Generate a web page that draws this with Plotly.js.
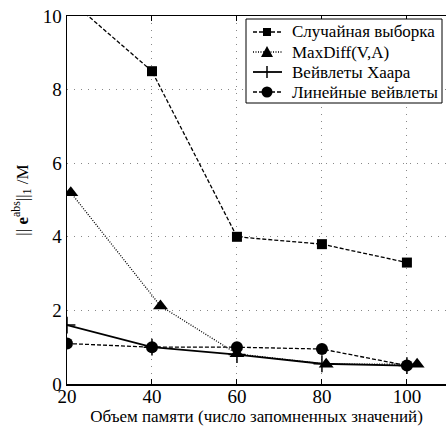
<!DOCTYPE html>
<html><head><meta charset="utf-8">
<script src="https://cdn.plot.ly/plotly-3.0.1.min.js"></script>
<style>html,body{margin:0;padding:0;background:#fff}</style>
</head><body>
<div id="chart" style="width:446px;height:428px"></div>
<script>
const seriesNames = ["Случайная выборка", "MaxDiff(V,A)", "Вейвлеты Хаара", "Линейные вейвлеты"];
const randomX = [20, 40, 60, 80, 100];
const randomY = [10.5, 8.5, 4.0, 3.8, 3.3];
const maxdiffX = [20.9, 42, 60, 81, 102.4];
const maxdiffY = [5.2, 2.12, 0.82, 0.54, 0.54];
const haarX = [20, 40, 60, 80, 100];
const haarY = [1.6, 1.0, 0.8, 0.55, 0.5];
const linearX = [20, 40, 60, 80, 100];
const linearY = [1.1, 1.0, 1.0, 0.95, 0.5];
const xTicks = [20, 40, 60, 80, 100];
const yTicks = [0, 2, 4, 6, 8, 10];

const FONT = "Liberation Serif";
const W = 446, H = 428, ML = 67, MR = 0, MT = 16, MB = 44;
const PW = W - ML - MR, PH = H - MT - MB;
const px = v => (v - ML) / PW;          // pixel x -> paper
const py = v => (H - MB - v) / PH;      // pixel y -> paper

const lineStyles = [
  {width: 1.3, dash: "4px,2px"},
  {width: 1.3, dash: "1px,1.5px"},
  {width: 1.8, dash: "solid"},
  {width: 1.3, dash: "4px,2px"}
];
const traces = [
  {x: randomX, y: randomY, name: seriesNames[0], mode: "lines+markers",
   line: Object.assign({color: "#000"}, lineStyles[0]),
   marker: {symbol: "square", size: 10, color: "#000"}},
  {x: maxdiffX, y: maxdiffY, name: seriesNames[1], mode: "lines+markers",
   line: Object.assign({color: "#000"}, lineStyles[1]),
   marker: {symbol: "triangle-up", size: 13, color: "#000"}},
  {x: haarX, y: haarY, name: seriesNames[2], mode: "lines+markers",
   line: Object.assign({color: "#000"}, lineStyles[2]),
   marker: {symbol: "cross-thin-open", size: 12, color: "#000", line: {width: 1.5, color: "#000"}}},
  {x: linearX, y: linearY, name: seriesNames[3], mode: "lines+markers",
   line: Object.assign({color: "#000"}, lineStyles[3]),
   marker: {symbol: "circle", size: 12, color: "#000"}}
];

// custom legend (box, samples, labels)
const shapes = [];
const annotations = [];
const LX0 = 246, LX1 = 442, LY0 = 19, LY1 = 103;
shapes.push({type: "rect", xref: "paper", yref: "paper", x0: px(LX0), x1: px(LX1), y0: py(LY1), y1: py(LY0),
  line: {color: "#000", width: 1}, fillcolor: "#fff", layer: "above"});
const rowY = [32, 52, 72, 92];
const sx0 = 253, sx1 = 282, sc = 267;
rowY.forEach((yy, i) => {
  shapes.push({type: "line", xref: "paper", yref: "paper", x0: px(sx0), x1: px(sx1), y0: py(yy), y1: py(yy),
    line: {color: "#000", width: lineStyles[i].width, dash: lineStyles[i].dash}, layer: "above"});
  annotations.push({xref: "paper", yref: "paper", x: px(290), y: py(yy), xanchor: "left", yanchor: "middle",
    text: seriesNames[i], showarrow: false, font: {family: FONT, size: 17, color: "#000"}});
});
// legend symbols
const s = 4;
shapes.push({type: "rect", xref: "paper", yref: "paper", x0: px(sc - s), x1: px(sc + s), y0: py(rowY[0] + s), y1: py(rowY[0] - s),
  fillcolor: "#000", line: {width: 0}, layer: "above"});
shapes.push({type: "path", xref: "paper", yref: "paper",
  path: `M ${px(sc - 6)} ${py(rowY[1] + 5)} L ${px(sc + 6)} ${py(rowY[1] + 5)} L ${px(sc)} ${py(rowY[1] - 6)} Z`,
  fillcolor: "#000", line: {width: 0}, layer: "above"});
shapes.push({type: "line", xref: "paper", yref: "paper", x0: px(sc), x1: px(sc), y0: py(rowY[2] - 6), y1: py(rowY[2] + 6),
  line: {color: "#000", width: 1.5}, layer: "above"});
shapes.push({type: "circle", xref: "paper", yref: "paper", x0: px(sc - 5.5), x1: px(sc + 5.5), y0: py(rowY[3] + 5.5), y1: py(rowY[3] - 5.5),
  fillcolor: "#000", line: {width: 0}, layer: "above"});

const layout = {
  width: W, height: H,
  margin: {l: ML, r: MR, t: MT, b: MB},
  paper_bgcolor: "#fff", plot_bgcolor: "#fff",
  font: {family: FONT, size: 16, color: "#000"},
  showlegend: false,
  shapes: shapes, annotations: annotations,
  xaxis: {range: [20, 109.2], tickvals: xTicks, ticktext: xTicks.map(String),
    showline: true, linecolor: "#000", linewidth: 1.5, mirror: "ticks",
    ticks: "inside", ticklen: 5, tickcolor: "#000", ticklabelstandoff: -5,
    showgrid: true, gridcolor: "#888", griddash: "1px,6px", gridwidth: 1,
    zeroline: false, tickfont: {family: FONT, size: 19},
    title: {text: "Объем памяти (число запомненных значений)", font: {family: FONT, size: 17}, standoff: 0}},
  yaxis: {range: [0, 10], tickvals: yTicks, ticktext: yTicks.map(String),
    showline: true, linecolor: "#000", linewidth: 1.5, mirror: false,
    ticks: "", showgrid: true, gridcolor: "#888", griddash: "1px,6px", gridwidth: 1,
    zeroline: false, tickfont: {family: FONT, size: 19},
    title: {text: "|| <b>e</b><sup>abs</sup>||<sub>1</sub> /M", font: {family: FONT, size: 17}, standoff: 10}}
};
Plotly.newPlot("chart", traces, layout, {displayModeBar: false, staticPlot: true});
</script>
</body></html>
